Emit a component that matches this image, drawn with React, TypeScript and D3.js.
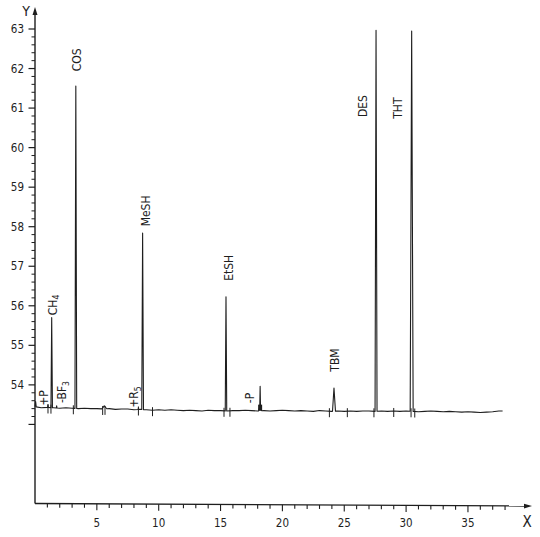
import React from "react";
import * as d3 from "d3";

// Baseline of the detector trace, every 0.5 min from 0 to 37.5 (signal units)
const baselineTimes = d3.range(0, 38, 0.5);
const baselineValues = [
  53.45, 53.42, 53.43, 53.42, 53.41, 53.42, 53.41, 53.40, 53.41, 53.40,
  53.40, 53.39, 53.40, 53.38, 53.39, 53.39, 53.37, 53.38, 53.37, 53.36,
  53.37, 53.36, 53.37, 53.36, 53.35, 53.36, 53.35, 53.34, 53.36, 53.35,
  53.35, 53.34, 53.35, 53.35, 53.36, 53.35, 53.34, 53.35, 53.34, 53.35,
  53.36, 53.35, 53.34, 53.35, 53.34, 53.33, 53.35, 53.34, 53.33, 53.34,
  53.33, 53.34, 53.33, 53.34, 53.34, 53.33, 53.34, 53.33, 53.34, 53.33,
  53.34, 53.33, 53.32, 53.33, 53.34, 53.33, 53.32, 53.33, 53.32, 53.31,
  53.32, 53.31, 53.30, 53.31, 53.32, 53.34,
];
const traceEnd = 37.8;

// Peaks: retention time (min), apex value, half width (min)
const peakNames = ["", "+P", "CH4", "-BF3", "COS", "", "+R5", "MeSH", "EtSH", "-P", "", "TBM", "DES", "THT"];
const peakTimes = [0.05, 1.05, 1.35, 1.75, 3.3, 5.6, 8.36, 8.7, 15.44, 18.2, 18.2, 24.17, 27.57, 30.45];
const peakApex = [53.58, 53.5, 55.7, 53.47, 61.56, 53.47, 53.42, 57.84, 56.23, 53.81, 53.5, 53.92, 62.97, 62.95];
const peakHalfWidths = [0.05, 0.03, 0.06, 0.03, 0.07, 0.2, 0.02, 0.07, 0.06, 0.03, 0.12, 0.12, 0.08, 0.12];

// Integration marks crossing the baseline (min)
const markerTimes = [1.05, 1.29, 3.1, 5.47, 5.66, 8.36, 9.5, 15.28, 15.76, 23.8, 25.25, 27.4, 29.0, 30.4, 30.7];

// Axis ticks
const yMajorTicks = [53, 54, 55, 56, 57, 58, 59, 60, 61, 62, 63];
const yLabelTicks = [54, 55, 56, 57, 58, 59, 60, 61, 62, 63];
const xMajorTicks = [5, 10, 15, 20, 25, 30, 35];
const xMinorTicks = d3.range(1, 39, 1);

// Peak labels: text, subscript, time of label centre, value of label centre
const labelTexts = ["+P", "CH", "-BF", "COS", "+R", "MeSH", "EtSH", "-P", "TBM", "DES", "THT"];
const labelSubs = ["", "4", "3", "", "5", "", "", "", "", "", ""];
const labelTimes = [0.75, 1.4, 2.2, 3.4, 8.0, 8.97, 15.7, 17.4, 24.2, 26.5, 29.35];
const labelValues = [53.67, 56.02, 53.82, 62.22, 53.69, 58.4, 56.96, 53.67, 54.63, 61.05, 61.0];

const FONT = "'DejaVu Sans Condensed', 'Liberation Sans Narrow', 'DejaVu Sans', sans-serif";

export default function App() {
  const W = 540;
  const H = 537;
  const x = d3.scaleLinear().domain([0, 40]).range([35, 35 + 12.37 * 40]);
  const y = d3.scaleLinear().domain([51, 63]).range([503.5, 29]);

  const baseAt = (t: number) => {
    const i = Math.min(Math.floor(t / 0.5), baselineValues.length - 2);
    const f = (t - baselineTimes[i]) / 0.5;
    return baselineValues[i] + (baselineValues[i + 1] - baselineValues[i]) * Math.max(0, Math.min(1, f));
  };
  const signalAt = (t: number) => {
    let v = baseAt(t);
    peakTimes.forEach((pt, i) => {
      const hw = peakHalfWidths[i];
      const d = Math.abs(t - pt);
      if (d < hw) {
        const b = baseAt(pt);
        v += (peakApex[i] - b) * (1 - d / hw);
      }
    });
    return v;
  };

  const sampleTimes: number[] = [];
  baselineTimes.forEach((t) => sampleTimes.push(t));
  peakTimes.forEach((pt, i) => {
    sampleTimes.push(pt - peakHalfWidths[i], pt, pt + peakHalfWidths[i]);
  });
  sampleTimes.push(traceEnd);
  const ts = Array.from(new Set(sampleTimes.filter((t) => t >= 0 && t <= traceEnd))).sort((a, b) => a - b);
  const line = d3
    .line<number>()
    .x((t) => x(t))
    .y((t) => y(signalAt(t)));
  const tracePath = line(ts) || "";

  const yMinor = d3.range(53.2, 63.01, 0.2).filter((v) => Math.abs(v - Math.round(v)) > 0.05);

  const ink = "#1e1e1e";
  const axisY0 = y(51);

  return (
    <svg
      width={W}
      height={H}
      style={{ position: "absolute", left: 0, top: 0, background: "#fff" }}
      fontFamily={FONT}
    >
      <rect x={0} y={0} width={W} height={H} fill="#fff" />
      {/* Y axis */}
      <line x1={35} y1={axisY0} x2={35} y2={10} stroke={ink} strokeWidth={1.4} />
      <path d="M35,7 L32.5,15 L37.5,15 Z" fill={ink} />
      {yMajorTicks.map((v) => (
        <line key={"ym" + v} x1={28.5} x2={35} y1={y(v)} y2={y(v)} stroke={ink} strokeWidth={1.2} />
      ))}
      {yMinor.map((v, i) => (
        <line key={"yn" + i} x1={31.5} x2={35} y1={y(v)} y2={y(v)} stroke={ink} strokeWidth={1} />
      ))}
      {yLabelTicks.map((v) => (
        <text key={"yl" + v} x={24} y={y(v)} dy="0.35em" textAnchor="end" fontSize={11.5} fill={ink}>
          {v}
        </text>
      ))}
      <text x={26} y={16} textAnchor="middle" fontSize={14} fill={ink}>
        Y
      </text>

      {/* X axis */}
      <line x1={35} y1={axisY0} x2={528} y2={axisY0 + 2.5} stroke={ink} strokeWidth={1.4} />
      <path d={`M532,${axisY0 + 2.6} L524,${axisY0 + 0.2} L524,${axisY0 + 5} Z`} fill={ink} />
      {xMinorTicks.map((t) => {
        const major = xMajorTicks.includes(t);
        const yy = axisY0 + (2.5 * (x(t) - 35)) / 493;
        return (
          <line key={"xt" + t} x1={x(t)} x2={x(t)} y1={yy} y2={yy + (major ? 6.5 : 4)} stroke={ink} strokeWidth={1.1} />
        );
      })}
      {xMajorTicks.map((t) => (
        <text key={"xl" + t} x={x(t)} y={527} textAnchor="middle" fontSize={11.5} fill={ink}>
          {t}
        </text>
      ))}
      <text x={527} y={527} textAnchor="middle" fontSize={15} fill={ink}>
        X
      </text>

      {/* Trace */}
      <path d={tracePath} fill="none" stroke={ink} strokeWidth={1.1} strokeLinejoin="round" />
      {markerTimes.map((t, i) => {
        const yb = y(baseAt(t));
        return <line key={"mk" + i} x1={x(t)} x2={x(t)} y1={yb - 3} y2={yb + 6} stroke={ink} strokeWidth={1} />;
      })}
      <rect x={x(18.2) - 2} y={y(53.5)} width={4} height={y(baseAt(18.2)) - y(53.5)} fill={ink} />

      {/* Peak labels */}
      {labelTexts.map((txt, i) => {
        const cx = x(labelTimes[i]);
        const cy = y(labelValues[i]);
        return (
          <text
            key={"lb" + i}
            x={cx}
            y={cy}
            transform={`rotate(-90 ${cx} ${cy})`}
            textAnchor="middle"
            dy="0.35em"
            fontSize={12}
            fill={ink}
          >
            {txt}
            {labelSubs[i] ? (
              <tspan fontSize={8.5} dy="2.5">
                {labelSubs[i]}
              </tspan>
            ) : null}
          </text>
        );
      })}
    </svg>
  );
}
